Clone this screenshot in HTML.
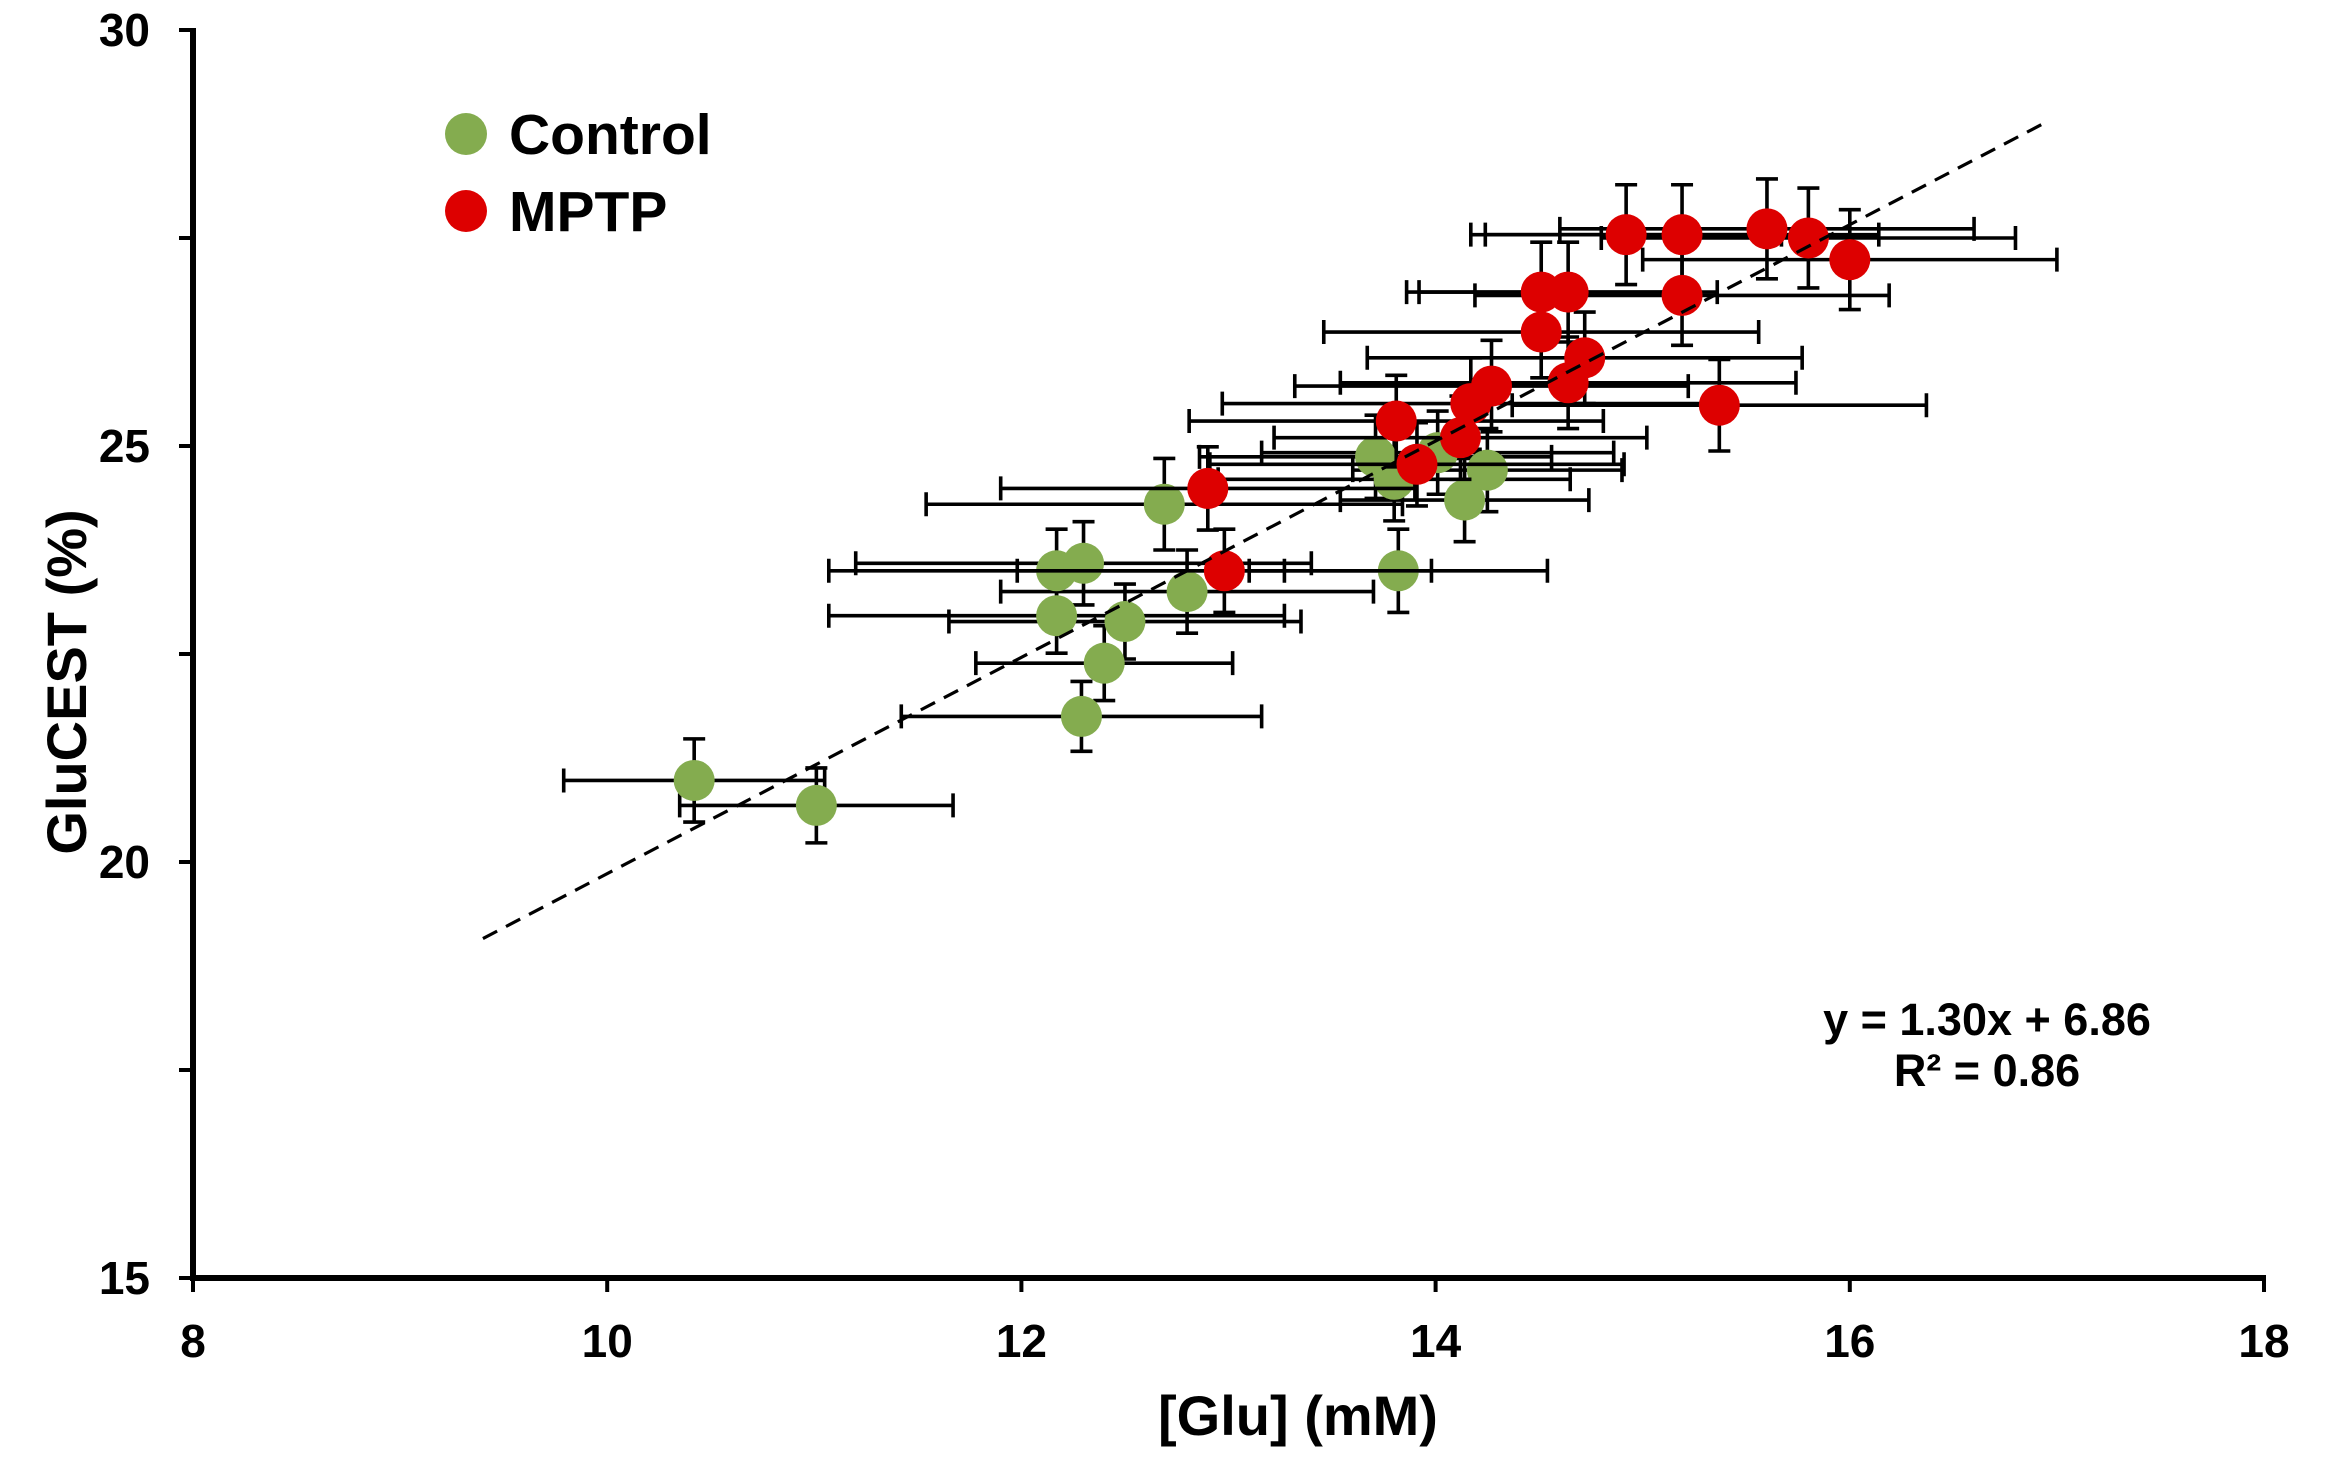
<!DOCTYPE html>
<html><head><meta charset="utf-8"><style>
html,body{margin:0;padding:0;background:#fff;}
svg{display:block;font-family:"Liberation Sans",Arial,sans-serif;font-weight:bold;}
</style></head><body>
<svg id="chart" width="2325" height="1483" viewBox="0 0 2325 1483" xmlns="http://www.w3.org/2000/svg"></svg>
<script>
const xTicks=[8,10,12,14,16,18];
const yTicks=[15,17.5,20,22.5,25,27.5,30];
const yLabels=[15,20,25,30];
const ctrlX=[10.42,11.01,12.29,12.40,12.17,12.50,12.80,12.17,12.30,13.82,12.69,13.71,13.80,14.01,14.14,14.25];
const ctrlY=[20.98,20.68,21.75,22.39,22.96,22.89,23.25,23.50,23.59,23.50,24.30,24.87,24.60,24.92,24.35,24.71];
const ctrlXErr=[0.63,0.66,0.87,0.62,1.1,0.85,0.9,1.1,1.1,0.72,1.15,0.85,0.85,0.85,0.6,0.65];
const ctrlYErr=[0.5,0.45,0.42,0.45,0.45,0.45,0.5,0.5,0.5,0.5,0.55,0.5,0.5,0.5,0.5,0.5];
const mptpX=[12.90,12.98,13.91,14.12,13.81,14.17,14.27,14.64,14.72,15.37,14.51,14.51,14.64,15.19,14.92,15.19,15.60,15.80,16.00];
const mptpY=[24.49,23.50,24.78,25.10,25.30,25.51,25.72,25.76,26.06,25.49,26.37,26.85,26.85,26.81,27.54,27.54,27.61,27.50,27.24];
const mptpXErr=[1.0,1.0,1.0,0.9,1.0,1.2,0.95,1.1,1.05,1.0,1.05,0.65,0.72,1.0,0.75,0.95,1.0,1.0,1.0];
const mptpYErr=[0.5,0.5,0.5,0.5,0.55,0.55,0.55,0.55,0.55,0.55,0.55,0.6,0.6,0.6,0.6,0.6,0.6,0.6,0.6];
const trendSlope=1.30, trendIntercept=6.86, trendXMin=9.40, trendXMax=16.95;

const NS="http://www.w3.org/2000/svg";
const svg=document.getElementById('chart');
const X0=193,X1=2264,Y0=1278,Y1=30;
const sx=v=>X0+(v-8)/(18-8)*(X1-X0);
const sy=v=>Y0-(v-15)/(30-15)*(Y0-Y1);
function mk(tag,attrs,parent){const e=document.createElementNS(NS,tag);for(const k in attrs)e.setAttribute(k,attrs[k]);(parent||svg).appendChild(e);return e;}

function drawSeries(xs,ys,xe,ye,name){
  const g=mk('g',{});
  
  
  const eg=mk('g',{stroke:'#000','stroke-width':3.6,fill:'none'},g);
  for(let i=0;i<xs.length;i++){
    const cx=sx(xs[i]),cy=sy(ys[i]);
    const l=sx(xs[i]-xe[i]),r=sx(xs[i]+xe[i]),t=sy(ys[i]+ye[i]),b=sy(ys[i]-ye[i]);
    const p=mk('path',{d:`M${l},${cy}H${r}M${l},${cy-12}V${cy+12}M${r},${cy-12}V${cy+12}M${cx},${t}V${b}M${cx-11},${t}H${cx+11}M${cx-11},${b}H${cx+11}`},eg);
    
    
  }
  return g;
}
const gc=drawSeries(ctrlX,ctrlY,ctrlXErr,ctrlYErr,'control');
const gm=drawSeries(mptpX,mptpY,mptpXErr,mptpYErr,'mptp');
for(let i=0;i<ctrlX.length;i++){
  const c=mk('circle',{cx:sx(ctrlX[i]),cy:sy(ctrlY[i]),r:20.5,fill:'#84ac4f'},gc);
  
  
}
for(let i=0;i<mptpX.length;i++){
  const c=mk('circle',{cx:sx(mptpX[i]),cy:sy(mptpY[i]),r:20.5,fill:'#dd0000'},gm);
  
  
}
const tl=mk('line',{x1:sx(trendXMin),y1:sy(trendSlope*trendXMin+trendIntercept),x2:sx(trendXMax),y2:sy(trendSlope*trendXMax+trendIntercept),stroke:'#000','stroke-width':3.2,'stroke-dasharray':'16,10'});



const ax=mk('path',{d:`M${X0},${Y1-2}V${Y0}H${X1+2}`,stroke:'#000','stroke-width':6,fill:'none'});


for(const v of xTicks){
  const x=sx(v);
  const t=mk('line',{x1:x,y1:Y0,x2:x,y2:Y0+14,stroke:'#000','stroke-width':4});
  
  
  const tx=mk('text',{x:x,y:Y0+79,'font-size':46,'text-anchor':'middle'});
  tx.textContent=v;
  
  
}
for(const v of yTicks){
  const y=sy(v);
  const t=mk('line',{x1:X0-14,y1:y,x2:X0,y2:y,stroke:'#000','stroke-width':4});
  
  
}
for(const v of yLabels){
  const tx=mk('text',{x:150,y:sy(v)+16,'font-size':46,'text-anchor':'end'});
  tx.textContent=v;
  
  
}
const xt=mk('text',{x:1298,y:1435,'font-size':56,'text-anchor':'middle'});
xt.textContent='[Glu] (mM)';


const yt=mk('text',{x:0,y:0,'font-size':56,'text-anchor':'middle',transform:'translate(86,682) rotate(-90)'});
yt.textContent='GluCEST (%)';



const lg=mk('g',{});


const l1=mk('circle',{cx:466,cy:134,r:21,fill:'#84ac4f'},lg);


const t1=mk('text',{x:509,y:154,'font-size':57},lg);
t1.textContent='Control';


const l2=mk('circle',{cx:466,cy:211,r:21,fill:'#dd0000'},lg);


const t2=mk('text',{x:509,y:231,'font-size':57},lg);
t2.textContent='MPTP';



const e1=mk('text',{x:1987,y:1035,'font-size':45,'text-anchor':'middle'});
e1.textContent='y = 1.30x + 6.86';


const e2=mk('text',{x:1987,y:1086,'font-size':45,'text-anchor':'middle'});
e2.textContent='R² = 0.86';


</script>
</body></html>
